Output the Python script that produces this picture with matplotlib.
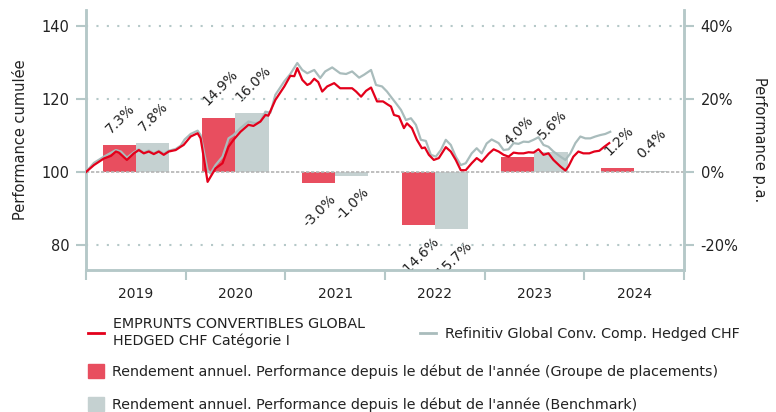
import numpy as np
import matplotlib
matplotlib.use('Agg')
import matplotlib.pyplot as plt
from matplotlib.lines import Line2D
from matplotlib.patches import Patch

plt.rcParams['font.family'] = ['DejaVu Sans']

# cumulated performance, fund (decimal year, index)
fund_t = [2019.00, 2019.08, 2019.18, 2019.25, 2019.30, 2019.33, 2019.41, 2019.48, 2019.53, 2019.58,
          2019.63, 2019.68, 2019.73, 2019.78, 2019.83, 2019.90, 2019.95, 2019.98, 2020.05, 2020.12,
          2020.15, 2020.18, 2020.22, 2020.25, 2020.30, 2020.37, 2020.43, 2020.48, 2020.55, 2020.63,
          2020.68, 2020.75, 2020.80, 2020.83, 2020.90, 2020.99, 2021.05, 2021.09, 2021.12, 2021.17,
          2021.22, 2021.25, 2021.29, 2021.33, 2021.37, 2021.42, 2021.49, 2021.55, 2021.61, 2021.67,
          2021.71, 2021.76, 2021.81, 2021.86, 2021.92, 2021.98, 2022.03, 2022.06, 2022.09, 2022.14,
          2022.19, 2022.22, 2022.27, 2022.32, 2022.37, 2022.40, 2022.44, 2022.49, 2022.54, 2022.61,
          2022.66, 2022.71, 2022.76, 2022.81, 2022.87, 2022.92, 2022.97, 2023.04, 2023.09, 2023.14,
          2023.19, 2023.24, 2023.29, 2023.34, 2023.39, 2023.44, 2023.49, 2023.54, 2023.59, 2023.64,
          2023.69, 2023.76, 2023.81, 2023.84, 2023.89, 2023.94, 2023.99, 2024.05, 2024.10, 2024.15,
          2024.20, 2024.25]
fund_v = [100.0, 101.9, 103.7, 104.4, 105.6, 105.3, 103.3, 105.1, 106.0, 105.1,
          105.6, 104.9, 105.6, 104.7, 105.6, 106.0, 106.9, 107.4, 109.7, 110.6,
          109.2, 104.2, 97.3, 98.7, 101.0, 102.4, 106.9, 108.8, 111.0, 112.9,
          112.6, 113.8, 115.6, 115.4, 119.7, 123.4, 126.3, 126.2, 128.4, 125.2,
          123.8, 124.2, 125.5, 124.6, 122.0, 123.4, 124.3, 122.9, 122.9, 122.9,
          122.0, 120.6, 122.2, 123.1, 119.3, 119.3, 118.4, 117.9, 115.6, 115.2,
          112.0, 113.3, 112.0, 108.8, 106.5, 106.7, 104.7, 103.3, 103.8, 106.8,
          105.6, 103.3, 100.5, 100.5, 102.4, 103.8, 102.8, 105.0, 106.2, 105.6,
          104.7, 104.2, 105.3, 105.1, 105.1, 105.4, 105.3, 106.2, 104.7, 105.1,
          103.3, 101.5, 100.4, 101.5, 104.2, 105.6, 105.1, 105.1, 105.6, 105.8,
          106.9, 107.9]

# cumulated performance, benchmark
bench_t = [2019.00, 2019.08, 2019.18, 2019.30, 2019.35, 2019.41, 2019.48, 2019.53, 2019.58, 2019.63,
           2019.68, 2019.73, 2019.78, 2019.83, 2019.90, 2019.95, 2019.99, 2020.05, 2020.12, 2020.15,
           2020.18, 2020.22, 2020.25, 2020.30, 2020.37, 2020.43, 2020.48, 2020.55, 2020.63, 2020.70,
           2020.75, 2020.80, 2020.85, 2020.90, 2020.99, 2021.05, 2021.12, 2021.17, 2021.22, 2021.29,
           2021.35, 2021.40, 2021.47, 2021.55, 2021.61, 2021.67, 2021.74, 2021.79, 2021.86, 2021.91,
           2021.97, 2022.02, 2022.07, 2022.11, 2022.16, 2022.21, 2022.26, 2022.31, 2022.36, 2022.41,
           2022.46, 2022.51, 2022.56, 2022.61, 2022.66, 2022.71, 2022.76, 2022.81, 2022.87, 2022.92,
           2022.97, 2023.02, 2023.07, 2023.14, 2023.19, 2023.24, 2023.29, 2023.34, 2023.39, 2023.44,
           2023.49, 2023.54, 2023.59, 2023.64, 2023.69, 2023.76, 2023.81, 2023.86, 2023.91, 2023.96,
           2024.01, 2024.06, 2024.11, 2024.16, 2024.21, 2024.26]
bench_v = [100.0, 102.5, 104.2, 106.0, 105.6, 103.9, 105.4, 106.2, 105.3, 105.9,
           105.1, 105.8, 105.0, 105.8, 106.3, 107.2, 108.9, 110.4, 111.3, 110.1,
           106.0, 100.5, 99.6, 101.9, 104.2, 109.2, 110.1, 112.0, 113.8, 113.3,
           113.8, 116.5, 116.2, 121.1, 124.8, 126.8, 129.8, 127.9, 127.0, 127.9,
           125.7, 127.5, 128.6, 127.0, 126.8, 127.5, 125.8, 126.6, 127.9, 123.8,
           123.4, 122.0, 120.2, 118.8, 117.0, 114.2, 114.7, 112.9, 108.8, 108.5,
           104.7, 104.2, 106.0, 108.8, 107.4, 104.2, 101.9, 102.4, 105.1, 106.5,
           105.1, 107.8, 108.9, 107.9, 106.0, 106.2, 107.9, 107.7, 108.3, 108.2,
           108.8, 109.5, 107.4, 106.9, 105.6, 104.2, 103.3, 105.1, 107.9, 109.7,
           109.2, 109.2, 109.7, 110.1, 110.4, 111.0]

# yearly returns in %
years = [2019, 2020, 2021, 2022, 2023, 2024]
fund_ret = [7.3, 14.9, -3.0, -14.6, 4.0, 1.2]
bench_ret = [7.8, 16.0, -1.0, -15.7, 5.6, 0.4]

RED_LINE = '#e3001b'
GREY_LINE = '#a9bcbc'
RED_BAR = '#e84e5f'
GREY_BAR = '#c5d1d1'
AXIS_C = '#b5c8c8'

fig = plt.figure(figsize=(7.76, 4.12), dpi=100)
ax = fig.add_axes([86 / 776, 1 - 270 / 412, 598 / 776, 260 / 412])
ax2 = ax.twinx()

# bars on the right (%) axis, behind the lines
x = np.array(years)
w = 1 / 3
ax2.bar(x + 1 / 3, fund_ret, width=w, color=RED_BAR, zorder=2)
ax2.bar(x + 2 / 3, bench_ret, width=w, color=GREY_BAR, zorder=2)
for xs, vals in ((x + 1 / 3, fund_ret), (x + 2 / 3, bench_ret)):
    for xi, v in zip(xs, vals):
        off = 6.5 if v >= 0 else -6.5
        ax2.annotate(f'{v:.1f}%', (xi, v), xytext=(1, off), textcoords='offset points',
                     rotation=45, ha='center', va='bottom' if v >= 0 else 'top',
                     fontsize=10, color='#222222', clip_on=True, annotation_clip=False)

ax.set_zorder(ax2.get_zorder() + 1)
ax.patch.set_visible(False)

for yv in (80, 120, 140):
    ax.axhline(yv, color=AXIS_C, lw=1.5, ls=(0, (1, 4)), zorder=1)
ax.axhline(100, color='#b4b4b4', lw=1.2, ls=(0, (2, 1)), zorder=1)

ax.plot(bench_t, bench_v, color=GREY_LINE, lw=1.6, zorder=3)
ax.plot(fund_t, fund_v, color=RED_LINE, lw=1.6, zorder=4)

ax.set_xlim(2019, 2025)
ax.set_ylim(73.2, 144.3)
ax2.set_ylim(73.2 - 100, 144.3 - 100)

ax.set_yticks([80, 100, 120, 140])
ax2.set_yticks([-20, 0, 20, 40])
ax2.set_yticklabels(['-20%', '0%', '20%', '40%'])

ax.set_xticks(range(2019, 2026))
ax.set_xticklabels([])
ax.set_xticks([y + 0.5 for y in years], minor=True)
ax.set_xticklabels([str(y) for y in years], minor=True)
ax.tick_params(axis='x', which='major', length=7, width=1.5, color=AXIS_C, direction='out')
ax.tick_params(axis='x', which='minor', length=0, pad=12, labelsize=10, labelcolor='#222222')
ax.tick_params(axis='y', length=7, width=1.5, color=AXIS_C, pad=5, labelsize=10.5,
               labelcolor='#222222')
ax2.tick_params(axis='y', length=7, width=1.5, color=AXIS_C, pad=5, labelsize=10.5,
                labelcolor='#222222')

for a in (ax, ax2):
    a.spines['top'].set_visible(False)
    for s in ('left', 'right', 'bottom'):
        a.spines[s].set_color(AXIS_C)
        a.spines[s].set_linewidth(1.8)

ax.set_ylabel('Performance cumulée', fontsize=10.5, color='#222222')
ax.yaxis.set_label_coords(-0.097, 0.5)
ax2.set_ylabel('Performance p.a.', fontsize=10.5, color='#222222', rotation=270, va='bottom')
ax2.yaxis.set_label_coords(1.114, 0.5)

# legends
line_handles = [Line2D([], [], color=RED_LINE, lw=2), Line2D([], [], color=GREY_LINE, lw=2)]
leg1 = fig.legend(line_handles,
                  ['EMPRUNTS CONVERTIBLES GLOBAL\nHEDGED CHF Catégorie I',
                   'Refinitiv Global Conv. Comp. Hedged CHF'],
                  ncol=2, loc='upper left', bbox_to_anchor=(88 / 776, 1 - 317 / 412),
                  frameon=False, fontsize=10.25, handlelength=1.15, handletextpad=0.6,
                  columnspacing=3.85, borderpad=0, borderaxespad=0)
bar_handles = [Patch(color=RED_BAR), Patch(color=GREY_BAR)]
leg2 = fig.legend(bar_handles,
                  ["Rendement annuel. Performance depuis le début de l'année (Groupe de placements)",
                   "Rendement annuel. Performance depuis le début de l'année (Benchmark)"],
                  loc='upper left', bbox_to_anchor=(88 / 776, 1 - 364 / 412),
                  frameon=False, fontsize=10.25, handlelength=1.12, handleheight=1.12,
                  handletextpad=0.6, labelspacing=1.3, borderpad=0, borderaxespad=0)
for t in leg1.get_texts() + leg2.get_texts():
    t.set_color('#222222')

fig.savefig('out.png', dpi=100)
